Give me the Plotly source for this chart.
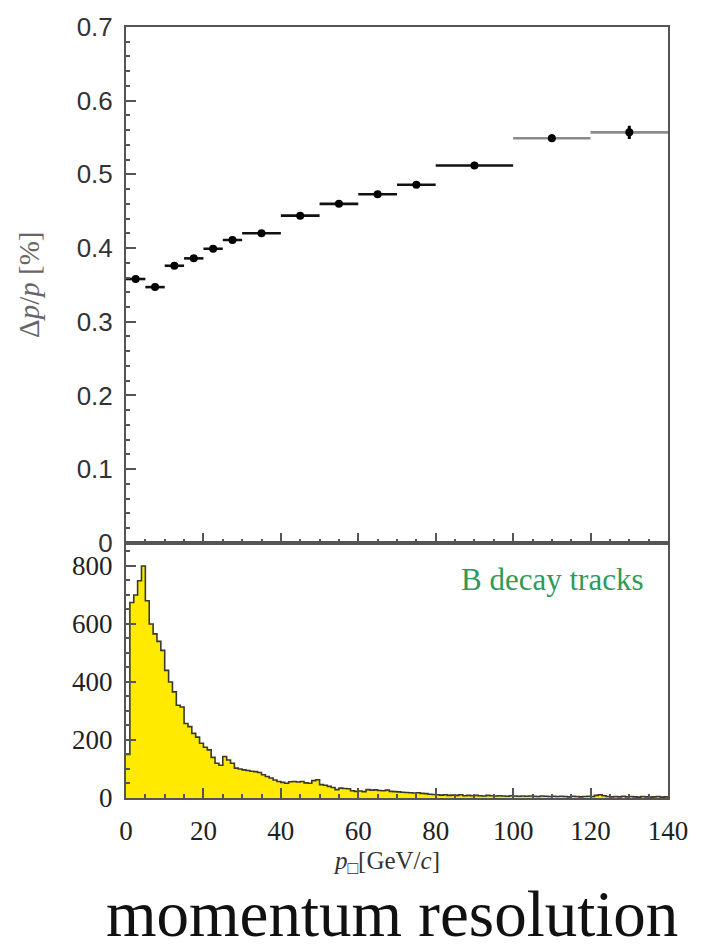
import plotly.graph_objects as go

# --- momentum resolution (top panel) ---
bin_lo = [0, 5, 10, 15, 20, 25, 30, 40, 50, 60, 70, 80, 100, 120]
bin_hi = [5, 10, 15, 20, 25, 30, 40, 50, 60, 70, 80, 100, 120, 140]
res = [0.358, 0.347, 0.376, 0.386, 0.399, 0.411, 0.420, 0.444, 0.460, 0.473, 0.486, 0.512, 0.549, 0.557]
res_err = [0.003, 0.003, 0.003, 0.003, 0.003, 0.003, 0.003, 0.003, 0.003, 0.003, 0.004, 0.004, 0.005, 0.009]
n_dark = 12  # first 12 bins drawn with dark bars, last two grey

# --- B decay track momentum distribution (bottom panel), 1 GeV/c bins ---
hist_counts = [
    150, 674, 700, 749, 800, 680, 600, 566, 540, 509,
    440, 400, 366, 320, 314, 257, 246, 223, 210, 189,
    175, 166, 140, 120, 113, 143, 131, 120, 103, 100,
    97, 95, 92, 91, 88, 80, 74, 69, 62, 57,
    54, 51, 56, 57, 55, 57, 52, 51, 60, 63,
    46, 44, 40, 36, 29, 34, 33, 32, 25, 23,
    24, 22, 29, 27, 28, 26, 25, 27, 23, 22,
    21, 20, 19, 18, 17, 18, 16, 15, 13, 12,
    11, 10, 11, 9, 10, 9, 11, 8, 9, 8,
    9, 8, 7, 9, 8, 7, 8, 7, 6, 8,
    7, 6, 7, 6, 7, 6, 5, 7, 6, 5,
    6, 5, 6, 5, 4, 6, 5, 4, 5, 6,
    5, 9, 11, 8, 5, 4, 5, 4, 6, 4,
    5, 4, 3, 5, 4, 3, 4, 5, 3, 4,
]
hist_edges = list(range(0, 141))

y_ticks_top = [0, 0.1, 0.2, 0.3, 0.4, 0.5, 0.6, 0.7]
y_ticks_bot = [0, 200, 400, 600, 800]
x_ticks = [0, 20, 40, 60, 80, 100, 120, 140]

centers = [(a + b) / 2 for a, b in zip(bin_lo, bin_hi)]
halfw = [(b - a) / 2 for a, b in zip(bin_lo, bin_hi)]

fig = go.Figure()

for sl, col in [(slice(0, n_dark), "#111111"), (slice(n_dark, None), "#8a8a8a")]:
    fig.add_trace(go.Scatter(
        x=centers[sl], y=res[sl], mode="markers",
        marker=dict(color="black", size=8),
        error_x=dict(type="data", array=halfw[sl], width=0, thickness=2.6, color=col),
        error_y=dict(type="data", array=res_err[sl], width=0, thickness=3, color="black"),
        xaxis="x", yaxis="y", showlegend=False,
    ))

fig.add_trace(go.Scatter(
    x=hist_edges, y=hist_counts + [hist_counts[-1]],
    mode="lines", line=dict(shape="hv", color="#3a3a2a", width=1.6),
    fill="tozeroy", fillcolor="#FFEA00",
    xaxis="x2", yaxis="y2", showlegend=False,
))

axis_common = dict(showline=True, linecolor="#555555", linewidth=2, mirror=True,
                   showgrid=False, zeroline=False, ticks="inside", tickcolor="#555555",
                   tickwidth=1.5)

split = 0.331
fig.update_layout(
    width=702, height=950,
    margin=dict(l=126, r=34, t=23, b=152),
    paper_bgcolor="white", plot_bgcolor="white",
    xaxis=dict(**axis_common, domain=[0, 1], anchor="y", range=[0, 140],
               tickvals=x_ticks, showticklabels=False, ticklen=10,
               minor=dict(dtick=5, tick0=0, ticks="inside", ticklen=4, tickcolor="#555555")),
    yaxis=dict(**axis_common, domain=[split, 1], anchor="x", range=[0, 0.7],
               tickvals=y_ticks_top, ticktext=[("0" if v == 0 else f"{v:.1f}") for v in y_ticks_top],
               ticklen=10, ticklabelstandoff=6,
               tickfont=dict(family="Liberation Sans", size=26, color="#333333"),
               minor=dict(dtick=0.02, tick0=0, ticks="inside", ticklen=4, tickcolor="#555555")),
    xaxis2=dict(**axis_common, domain=[0, 1], anchor="y2", range=[0, 140],
                tickvals=x_ticks, ticklen=10, ticklabelstandoff=8,
                tickfont=dict(family="Liberation Serif", size=27, color="#222222"),
                minor=dict(dtick=5, tick0=0, ticks="inside", ticklen=4, tickcolor="#555555")),
    yaxis2=dict(**axis_common, domain=[0, split], anchor="x2", range=[0, 880],
                tickvals=y_ticks_bot, ticklen=10, ticklabelstandoff=6,
                tickfont=dict(family="Liberation Serif", size=27, color="#222222"),
                minor=dict(dtick=50, tick0=0, ticks="inside", ticklen=4, tickcolor="#555555")),
    annotations=[
        dict(text="Δ<i>p</i>/<i>p</i> [%]", xref="paper", yref="paper",
             x=-0.18, y=0.666, xanchor="center", yanchor="middle",
             textangle=-90, showarrow=False,
             font=dict(family="Liberation Serif", size=29, color="#666666")),
        dict(text="B decay tracks", xref="x2", yref="y2", x=134, y=755,
             xanchor="right", yanchor="middle", showarrow=False,
             font=dict(family="Liberation Serif", size=31, color="#2f9a58")),
        dict(text="<i>p</i><sub>□</sub>[GeV/<i>c</i>]", xref="paper", yref="paper",
             x=0.48, y=-0.084, xanchor="center", yanchor="middle", showarrow=False,
             font=dict(family="Liberation Serif", size=25, color="#333333")),
        dict(text="momentum resolution", xref="paper", yref="paper",
             x=0.49, y=-0.151, xanchor="center", yanchor="middle", showarrow=False,
             font=dict(family="Liberation Serif", size=65, color="#111111")),
    ],
)

fig.write_html("out.html")
